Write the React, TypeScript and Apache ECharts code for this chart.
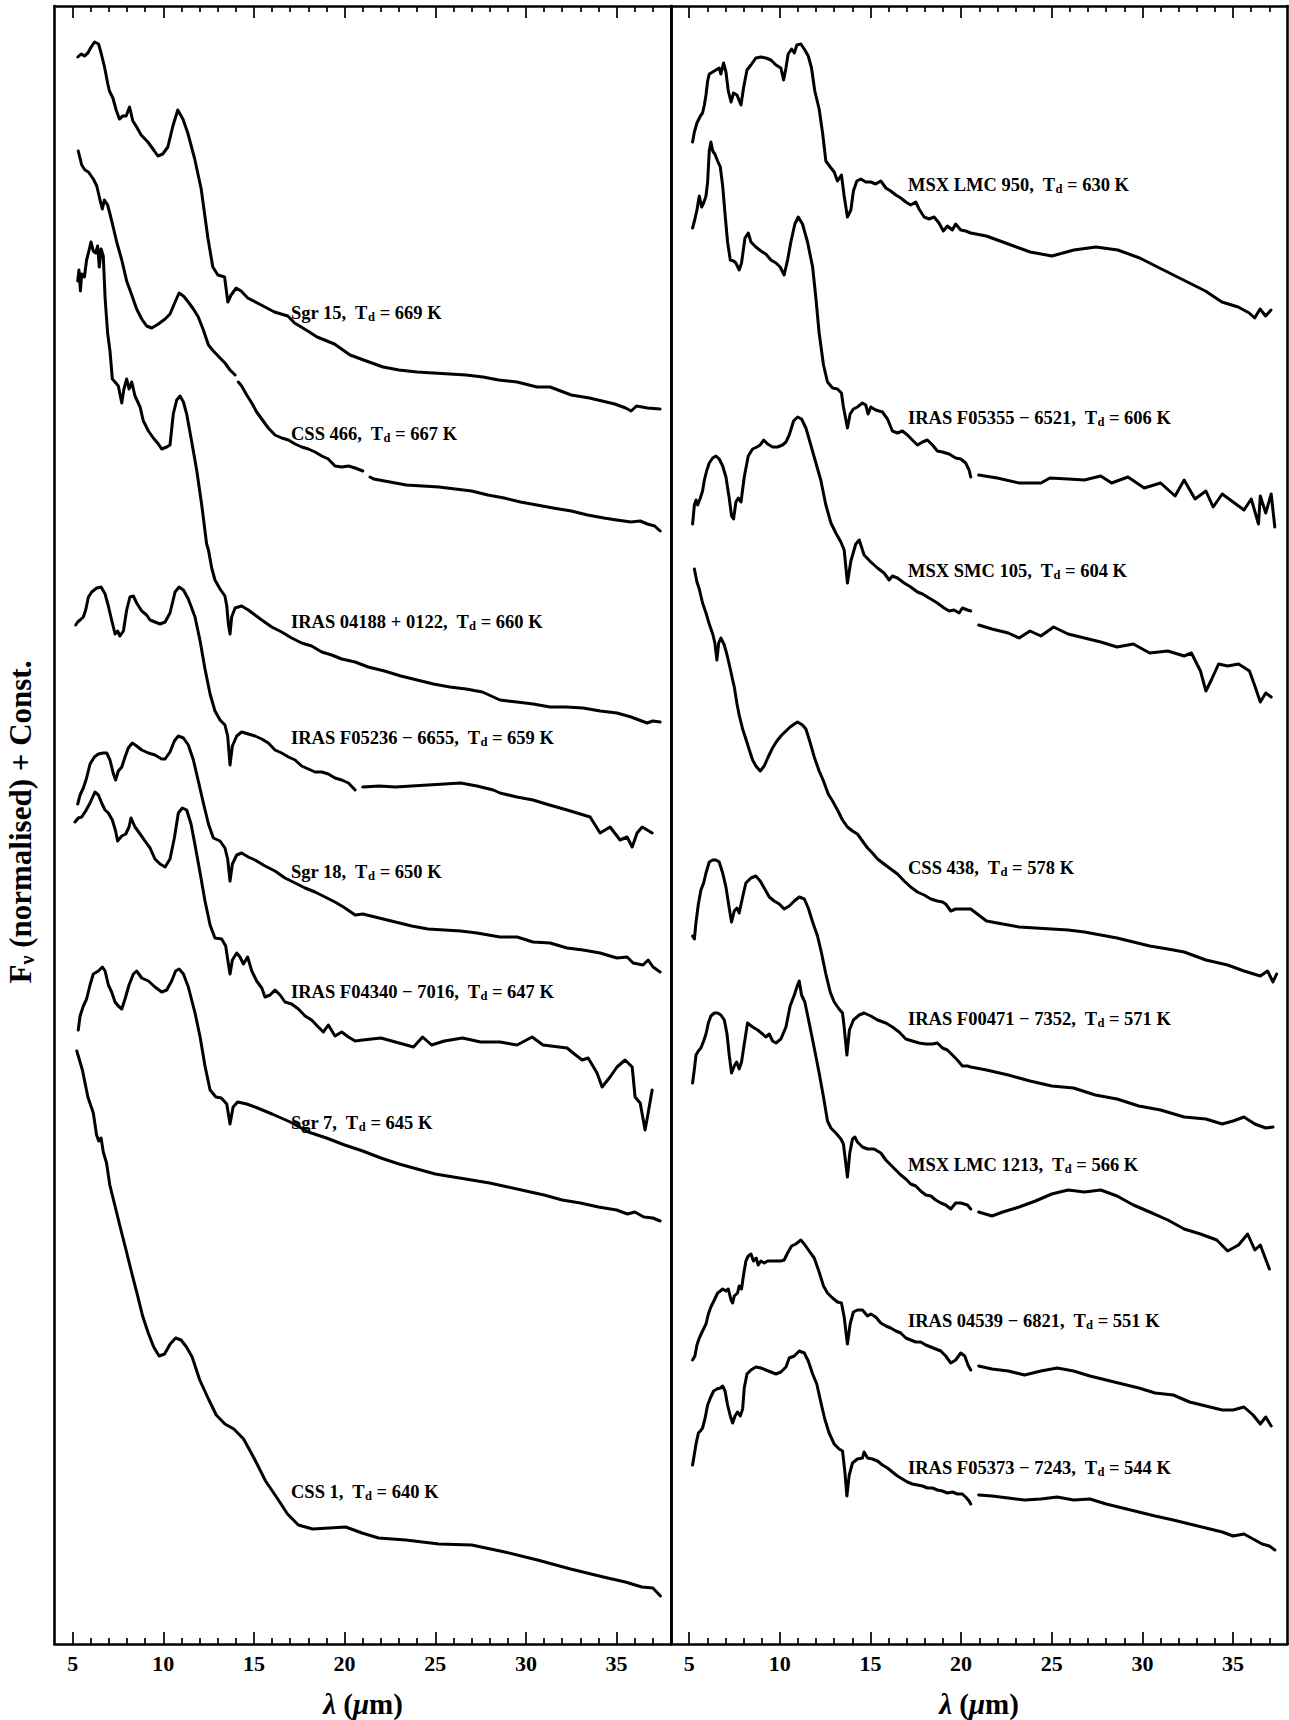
import React, { useEffect, useRef } from 'react';
import * as echarts from 'echarts';

type Pt = [number, number | null];

// ---------- LEFT PANEL SPECTRA (lambda in micron, F_nu normalised + const) ----------
const sgr15: Pt[] = [[5.29,159.3],[5.47,159.6],[5.65,159.4],[5.84,159.7],[6.02,160.3],[6.21,160.8],[6.43,160.6],[6.57,159.7],[6.76,158.3],[6.94,156.6],[7.03,155.9],[7.22,155.2],[7.40,154.0],[7.58,153.1],[7.77,153.4],[7.95,153.4],[8.14,154.3],[8.32,152.9],[8.50,152.4],[8.78,151.5],[9.15,150.8],[9.51,149.9],[9.70,149.4],[9.97,149.6],[10.25,150.3],[10.53,152.4],[10.80,154.0],[11.08,153.1],[11.35,151.7],[11.72,149.2],[12.09,146.1],[12.46,141.2],[12.73,138.3],[13.01,137.5],[13.38,137.3],[13.56,134.8],[13.74,135.5],[14.02,136.2],[14.29,135.9],[14.66,135.2],[15.40,134.5],[16.13,133.8],[16.87,133.4],[17.24,132.7],[17.97,131.9],[18.48,131.3],[19.44,130.6],[20.30,129.5],[21.2,128.9],[22.12,128.3],[23.0,128.0],[23.99,127.8],[24.9,127.7],[25.81,127.6],[26.7,127.5],[27.63,127.3],[28.5,127.0],[29.51,126.8],[30.61,126.3],[31.33,126.3],[32.5,125.5],[33.5,125.2],[34.9,124.6],[35.5,124.2],[35.8,123.9],[36.1,124.4],[36.7,124.2],[37.4,124.1]];
const css466: Pt[] = [[5.31,149.9],[5.50,148.5],[5.68,148.0],[5.87,147.8],[6.14,147.1],[6.33,146.4],[6.51,145.0],[6.64,144.1],[6.75,145.0],[6.93,144.5],[7.06,143.6],[7.25,142.2],[7.43,140.8],[7.71,139.0],[7.98,136.9],[8.26,135.5],[8.53,134.1],[8.81,133.1],[9.08,132.4],[9.36,132.2],[9.73,132.6],[10.10,133.1],[10.37,133.6],[10.65,134.8],[10.87,135.7],[11.11,135.4],[11.38,134.8],[11.66,134.1],[11.93,133.3],[12.21,132.0],[12.49,130.5],[12.76,129.9],[13.13,129.2],[13.40,128.7],[13.68,128.0],[13.96,127.5],[14.05,null],[14.14,126.8],[14.32,126.4],[14.60,125.5],[14.88,124.7],[15.15,123.8],[15.43,123.1],[15.79,122.2],[16.16,121.5],[16.53,121.2],[16.90,121.0],[17.27,120.6],[17.63,120.3],[18.00,120.1],[18.37,119.8],[18.74,119.4],[19.10,119.1],[19.47,118.4],[19.84,118.3],[20.21,118.4],[20.58,118.2],[21.0,117.9],[21.2,null],[21.4,117.3],[21.6,117.1],[22.5,116.8],[23.4,116.5],[24.3,116.4],[25.2,116.3],[26.1,116.1],[27.0,115.9],[27.9,115.5],[28.8,115.2],[29.7,114.8],[30.6,114.5],[31.5,114.2],[32.5,113.9],[33.4,113.5],[34.3,113.2],[35.0,113.0],[35.8,112.8],[36.3,112.9],[36.7,112.6],[37.1,112.4],[37.4,111.9]];
const iras04188: Pt[] = [[5.28,136.9],[5.35,138.0],[5.43,135.9],[5.50,137.6],[5.65,137.3],[5.77,139.0],[5.87,139.7],[6.01,140.8],[6.14,139.9],[6.27,139.7],[6.38,140.4],[6.47,138.3],[6.57,140.1],[6.69,139.4],[6.79,135.2],[6.93,131.7],[7.06,129.9],[7.19,127.1],[7.34,126.8],[7.52,126.4],[7.71,124.7],[7.83,126.1],[7.98,127.1],[8.11,126.1],[8.26,126.8],[8.44,125.4],[8.72,124.3],[8.90,122.9],[9.18,121.9],[9.45,121.2],[9.73,120.6],[9.91,120.1],[10.19,120.3],[10.37,120.5],[10.55,123.6],[10.74,125.0],[10.92,125.4],[11.11,124.8],[11.29,123.6],[11.57,120.8],[11.84,118.0],[12.12,114.5],[12.39,110.6],[12.49,110.0],[12.67,108.2],[12.85,107.0],[13.13,106.1],[13.40,105.4],[13.50,104.4],[13.59,102.6],[13.68,101.6],[13.77,103.3],[13.96,104.2],[14.32,104.4],[14.69,104.0],[15.06,103.5],[15.43,103.0],[15.98,102.3],[16.53,101.8],[17.08,101.2],[17.63,100.7],[18.18,100.4],[18.74,99.8],[19.29,99.5],[19.84,99.1],[20.58,98.8],[21.3,98.3],[22.2,97.9],[23.1,97.4],[24.0,97.0],[24.9,96.6],[25.8,96.3],[26.7,96.1],[27.6,95.8],[28.57,95.0],[29.5,94.8],[30.4,94.6],[31.33,94.3],[32.2,94.3],[33.15,94.2],[34.1,93.9],[35.02,93.7],[35.8,93.3],[36.68,92.7],[37.0,92.9],[37.40,92.8]];
const f05236: Pt[] = [[5.17,102.5],[5.28,102.8],[5.41,103.0],[5.59,103.3],[5.72,104.0],[5.87,105.3],[6.05,105.8],[6.33,106.2],[6.57,106.3],[6.79,105.6],[6.97,104.4],[7.15,103.0],[7.34,101.6],[7.48,101.9],[7.61,101.4],[7.80,101.9],[7.98,104.0],[8.16,105.3],[8.35,105.4],[8.53,104.7],[8.81,103.9],[9.08,103.5],[9.27,103.0],[9.54,102.8],[9.82,102.6],[10.10,102.8],[10.37,103.7],[10.65,105.8],[10.87,106.3],[11.11,106.0],[11.38,105.1],[11.75,103.3],[12.03,100.9],[12.30,98.1],[12.58,95.6],[12.85,93.9],[13.13,93.0],[13.40,92.5],[13.55,91.4],[13.68,88.5],[13.81,90.4],[14.05,91.4],[14.32,91.8],[14.69,91.6],[15.06,91.4],[15.43,91.1],[15.79,90.7],[16.16,90.0],[16.53,89.7],[16.90,89.3],[17.27,89.0],[17.63,88.4],[18.00,88.1],[18.37,87.8],[18.74,87.8],[19.10,87.6],[19.47,87.2],[19.84,87.0],[20.21,86.7],[20.58,86.0],[20.8,null],[21.0,86.3],[21.9,86.4],[22.8,86.3],[23.7,86.4],[24.6,86.5],[25.5,86.6],[26.4,86.7],[27.3,86.4],[28.2,86.0],[28.57,85.7],[29.5,85.3],[30.39,85.0],[31.3,84.5],[32.27,84.0],[33.0,83.6],[33.54,83.3],[34.09,81.7],[34.64,82.3],[35.19,81.0],[35.58,81.3],[35.86,80.3],[36.13,81.7],[36.41,82.3],[36.69,82.0],[36.96,81.7]];
const sgr18: Pt[] = [[5.28,84.6],[5.41,85.5],[5.59,86.2],[5.77,87.2],[5.96,88.6],[6.20,89.3],[6.42,89.6],[6.69,89.7],[6.88,89.7],[7.06,89.0],[7.25,87.6],[7.37,87.0],[7.52,87.9],[7.71,88.3],[7.89,89.3],[8.07,90.2],[8.29,90.7],[8.53,90.4],[8.81,90.0],[9.18,89.7],[9.54,89.5],[9.91,89.1],[10.10,89.1],[10.37,89.8],[10.61,90.9],[10.83,91.4],[11.11,91.2],[11.38,90.5],[11.66,89.0],[11.93,86.9],[12.21,84.7],[12.49,82.6],[12.76,81.2],[13.13,80.9],[13.40,80.2],[13.55,79.1],[13.68,76.9],[13.81,78.6],[14.05,79.5],[14.32,79.7],[14.69,79.3],[15.06,79.0],[15.61,78.4],[16.16,77.9],[16.71,77.2],[17.27,76.7],[17.82,76.2],[18.37,75.8],[18.92,75.3],[19.47,74.8],[20.02,74.2],[20.58,73.5],[21.0,73.6],[21.9,73.2],[22.8,72.8],[23.7,72.4],[24.6,72.1],[25.5,72.0],[26.4,71.9],[27.3,71.7],[28.57,71.3],[29.51,71.3],[30.39,70.8],[31.33,70.7],[32.27,70.2],[33.15,70.0],[34.09,69.7],[35.02,69.2],[35.58,69.3],[35.91,68.7],[36.46,68.5],[36.74,69.0],[37.01,68.3],[37.40,67.8]];
const f04340: Pt[] = [[5.13,82.8],[5.31,83.2],[5.50,83.3],[5.72,83.9],[5.96,84.7],[6.23,85.8],[6.42,85.5],[6.60,84.7],[6.79,84.0],[6.97,83.7],[7.19,83.0],[7.37,81.9],[7.48,80.9],[7.71,81.4],[7.93,81.6],[8.11,82.3],[8.22,83.2],[8.44,82.3],[8.72,81.6],[8.99,80.9],[9.27,80.2],[9.54,79.1],[9.82,78.6],[10.10,78.3],[10.37,79.1],[10.61,81.2],[10.83,83.7],[11.05,84.2],[11.29,84.0],[11.53,82.6],[11.75,80.5],[12.03,77.7],[12.30,74.9],[12.58,72.5],[12.85,71.2],[13.22,71.1],[13.44,70.4],[13.59,68.6],[13.68,67.6],[13.81,69.0],[14.05,69.7],[14.23,69.3],[14.42,68.6],[14.65,69.3],[14.88,67.9],[15.15,66.9],[15.43,66.2],[15.61,65.3],[15.89,65.5],[16.16,66.0],[16.44,65.5],[16.71,64.8],[17.08,64.6],[17.45,64.1],[17.82,63.4],[18.18,63.0],[18.55,62.3],[18.83,61.8],[19.10,62.5],[19.47,61.4],[19.84,61.8],[20.21,61.3],[20.58,60.9],[21.0,61.0],[22.0,61.2],[23.0,60.7],[23.8,60.3],[24.3,61.3],[24.8,60.5],[25.5,60.9],[26.5,61.2],[27.5,60.8],[28.57,60.8],[29.51,60.5],[30.34,61.3],[30.94,60.5],[32.27,60.2],[32.60,59.7],[33.10,59.0],[33.43,59.2],[33.92,57.7],[34.20,56.3],[34.64,57.3],[35.02,58.3],[35.47,59.0],[35.86,58.3],[36.02,55.3],[36.30,54.7],[36.57,52.0],[36.74,53.7],[36.96,56.0]];
const sgr7: Pt[] = [[5.31,62.0],[5.41,63.4],[5.59,64.4],[5.77,65.1],[5.96,66.5],[6.14,67.6],[6.42,67.9],[6.64,68.3],[6.79,67.9],[6.97,66.5],[7.15,65.8],[7.34,64.8],[7.52,64.4],[7.71,64.1],[7.89,65.1],[8.11,66.5],[8.35,67.6],[8.53,67.9],[8.81,67.2],[9.18,66.9],[9.54,66.3],[9.91,65.8],[10.19,66.0],[10.46,66.9],[10.68,67.9],[10.87,68.1],[11.11,67.6],[11.38,66.3],[11.75,63.7],[12.03,61.3],[12.30,58.4],[12.58,56.0],[12.9,55.3],[13.2,55.2],[13.5,54.6],[13.68,52.6],[13.85,54.3],[14.1,54.8],[14.6,54.6],[15.2,54.2],[16.0,53.6],[17.0,52.8],[18.0,51.8],[19.0,51.2],[20.0,50.5],[21.0,49.9],[22.0,49.2],[23.0,48.6],[24.0,48.1],[25.0,47.6],[26.0,47.3],[27.0,47.0],[28.0,46.7],[29.0,46.3],[30.0,45.9],[31.0,45.5],[32.0,45.0],[33.0,44.7],[34.0,44.3],[35.0,44.0],[35.6,43.6],[36.0,43.8],[36.5,43.3],[37.0,43.2],[37.4,42.9]];
const css1: Pt[] = [[5.23,59.9],[5.54,58.0],[5.84,55.3],[6.14,53.7],[6.32,51.5],[6.44,50.9],[6.57,51.2],[6.69,49.8],[6.87,48.7],[7.05,46.5],[7.35,44.3],[7.65,42.1],[7.96,39.9],[8.26,37.7],[8.56,35.6],[8.86,33.4],[9.17,31.7],[9.47,30.3],[9.77,29.4],[10.07,29.6],[10.38,30.6],[10.68,31.2],[10.98,31.0],[11.28,30.3],[11.59,29.3],[12.01,27.0],[12.49,25.1],[12.92,23.5],[13.40,22.6],[13.89,22.1],[14.43,21.1],[15.03,19.1],[15.64,16.9],[16.24,15.3],[16.85,13.6],[17.45,12.5],[18.24,12.1],[19.15,12.2],[20.06,12.3],[20.96,11.7],[21.87,11.2],[23.38,11.0],[25.20,10.6],[27.01,10.5],[28.83,9.8],[30.64,9.0],[32.46,8.1],[34.27,7.3],[35.48,6.8],[36.39,6.3],[37.00,6.2],[37.42,5.4]];

// ---------- RIGHT PANEL SPECTRA ----------
const lmc950: Pt[] = [[5.19,150.8],[5.29,151.8],[5.43,152.7],[5.62,153.4],[5.74,153.7],[5.84,154.5],[5.93,155.5],[6.02,156.9],[6.11,157.6],[6.30,157.8],[6.48,158.0],[6.66,158.2],[6.75,157.6],[6.90,158.7],[7.03,157.8],[7.16,155.9],[7.31,154.8],[7.45,155.7],[7.64,155.5],[7.86,154.5],[8.00,156.2],[8.19,158.0],[8.41,158.5],[8.68,159.2],[8.96,159.3],[9.23,159.2],[9.51,159.0],[9.79,158.5],[10.06,158.2],[10.21,157.0],[10.34,158.2],[10.46,159.6],[10.65,160.1],[10.80,159.7],[10.94,160.5],[11.16,160.6],[11.35,160.1],[11.57,159.4],[11.75,158.2],[11.93,155.9],[12.17,154.1],[12.36,151.7],[12.54,148.9],[12.78,148.3],[13.00,147.8],[13.18,146.9],[13.40,147.5],[13.55,145.4],[13.73,143.3],[13.92,144.0],[14.06,145.9],[14.25,146.9],[14.47,147.1],[14.74,146.8],[15.02,146.8],[15.29,146.6],[15.57,146.9],[15.85,146.2],[16.12,145.9],[16.40,145.5],[16.67,145.2],[16.95,144.8],[17.22,144.5],[17.50,144.8],[17.68,144.1],[17.96,143.3],[18.23,143.1],[18.51,143.3],[18.78,142.7],[19.02,141.9],[19.24,142.4],[19.52,142.0],[19.70,142.6],[19.98,142.0],[20.25,141.9],[20.53,141.7],[21.39,141.4],[22.60,140.6],[23.81,139.8],[25.01,139.4],[26.22,140.0],[27.43,140.3],[28.64,140.0],[29.85,139.2],[31.05,138.1],[32.26,137.0],[33.47,135.9],[34.38,134.8],[35.28,134.3],[35.89,133.7],[36.19,133.2],[36.49,134.1],[36.79,133.4],[37.09,134.0]];
const f05355: Pt[] = [[5.19,142.2],[5.32,143.1],[5.43,144.0],[5.56,145.4],[5.69,144.3],[5.80,144.7],[5.93,145.4],[6.02,146.8],[6.11,149.9],[6.20,150.8],[6.30,149.9],[6.42,149.6],[6.57,148.9],[6.72,148.3],[6.85,146.4],[6.98,143.6],[7.12,140.8],[7.27,139.0],[7.45,138.9],[7.58,138.7],[7.76,138.0],[7.89,138.7],[8.08,141.2],[8.26,141.7],[8.41,140.8],[8.68,140.3],[8.96,139.9],[9.23,139.6],[9.51,139.0],[9.79,138.7],[10.02,138.3],[10.24,137.5],[10.43,139.0],[10.61,140.8],[10.83,142.6],[11.02,143.3],[11.25,142.6],[11.53,140.8],[11.81,138.3],[11.99,135.2],[12.17,131.7],[12.41,128.5],[12.63,126.8],[12.91,126.2],[13.18,126.1],[13.40,125.7],[13.51,124.3],[13.73,122.2],[13.88,123.6],[14.06,124.1],[14.28,124.3],[14.56,124.7],[14.74,124.5],[14.87,123.6],[15.02,124.3],[15.29,124.0],[15.66,123.8],[15.94,123.1],[16.21,121.9],[16.49,121.7],[16.76,121.9],[17.04,121.5],[17.31,121.0],[17.59,120.5],[17.87,120.8],[18.14,121.0],[18.42,120.5],[18.69,119.9],[18.97,119.8],[19.34,119.6],[19.70,119.2],[19.98,119.1],[20.25,118.7],[20.44,118.0],[20.53,117.3],[20.75,null],[20.97,117.5],[21.99,117.2],[23.2,116.7],[24.4,116.7],[24.9,117.2],[25.9,117.1],[26.8,117.0],[27.7,117.4],[28.3,116.7],[29.2,117.3],[30.1,116.2],[31.0,116.7],[31.8,115.4],[32.3,117.0],[32.9,115.1],[33.5,115.9],[33.9,114.3],[34.4,115.6],[35.0,114.8],[35.6,114.0],[36.0,115.1],[36.4,112.6],[36.5,115.4],[36.8,113.7],[37.1,115.6],[37.3,112.3]];
const smc105: Pt[] = [[5.19,112.6],[5.29,114.5],[5.38,115.0],[5.47,114.5],[5.62,115.2],[5.74,115.9],[5.84,117.0],[5.98,118.0],[6.11,118.7],[6.30,119.2],[6.48,119.4],[6.66,119.1],[6.85,118.4],[7.03,117.3],[7.21,115.2],[7.34,113.4],[7.45,113.1],[7.58,114.8],[7.71,115.2],[7.86,114.8],[8.04,117.3],[8.26,119.4],[8.50,120.1],[8.74,120.3],[8.92,120.5],[9.11,121.0],[9.33,120.6],[9.60,120.3],[9.88,120.3],[10.15,120.5],[10.34,120.8],[10.52,121.5],[10.76,122.9],[10.98,123.3],[11.20,123.1],[11.44,122.2],[11.71,120.5],[11.99,118.7],[12.26,117.0],[12.54,114.5],[12.82,112.7],[13.09,111.7],[13.37,110.8],[13.55,110.0],[13.66,108.0],[13.73,106.7],[13.92,108.9],[14.19,110.6],[14.38,111.0],[14.65,109.5],[15.02,108.8],[15.39,108.2],[15.75,107.7],[16.03,107.0],[16.21,107.4],[16.49,107.2],[16.86,106.7],[17.22,106.3],[17.59,105.8],[17.87,105.6],[18.05,105.4],[18.33,105.1],[18.69,104.7],[19.06,104.2],[19.34,103.9],[19.61,104.0],[19.89,103.7],[20.07,104.2],[20.35,104.0],[20.53,103.9],[20.75,null],[20.97,102.5],[21.7,102.1],[22.6,101.7],[23.2,101.2],[23.8,101.9],[24.4,101.4],[25.1,102.3],[25.9,101.6],[26.8,101.2],[27.7,100.8],[28.6,100.3],[29.5,100.6],[30.4,99.7],[31.4,99.9],[32.3,99.4],[32.7,99.7],[33.2,97.9],[33.5,95.9],[33.8,97.0],[34.2,98.6],[34.7,98.4],[35.3,98.6],[35.9,97.9],[36.2,96.4],[36.5,94.8],[36.8,95.7],[37.1,95.3]];
const css438: Pt[] = [[5.29,108.1],[5.43,106.8],[5.56,106.1],[5.74,104.7],[5.93,103.7],[6.11,102.6],[6.30,101.6],[6.42,100.7],[6.53,99.0],[6.63,100.7],[6.75,101.2],[6.94,100.5],[7.09,99.5],[7.27,98.1],[7.40,97.0],[7.49,96.3],[7.64,94.6],[7.76,93.5],[7.95,92.1],[8.13,91.1],[8.32,90.0],[8.50,89.0],[8.68,88.4],[8.92,87.9],[9.14,88.4],[9.36,89.3],[9.60,90.2],[9.84,90.9],[10.06,91.4],[10.34,91.9],[10.57,92.3],[10.80,92.6],[10.98,92.8],[11.25,92.5],[11.44,92.1],[11.68,90.7],[11.90,89.3],[12.17,87.9],[12.41,86.9],[12.67,85.6],[12.91,84.9],[13.18,84.0],[13.46,83.0],[13.73,82.3],[14.01,81.9],[14.28,81.6],[14.56,80.9],[14.84,80.2],[15.11,79.7],[15.39,79.1],[15.75,78.6],[16.12,78.1],[16.49,77.6],[16.86,76.9],[17.22,76.3],[17.59,75.8],[17.96,75.5],[18.33,75.1],[18.69,74.9],[18.97,74.8],[19.15,74.6],[19.43,73.9],[19.70,74.1],[19.98,74.1],[20.35,74.1],[20.53,74.1],[21.4,72.9],[22.3,72.6],[23.2,72.3],[24.1,72.2],[25.0,72.1],[25.9,72.0],[26.8,71.8],[27.7,71.5],[28.6,71.2],[29.5,70.8],[30.4,70.4],[31.4,70.1],[32.3,69.8],[33.5,69.0],[34.7,68.5],[35.6,67.9],[36.5,67.4],[36.9,67.9],[37.2,66.8],[37.4,67.6]];
const f00471: Pt[] = [[5.19,71.4],[5.29,71.1],[5.38,72.8],[5.51,74.6],[5.65,76.0],[5.80,76.7],[5.93,77.7],[6.11,78.8],[6.30,79.0],[6.48,79.0],[6.66,78.8],[6.85,77.7],[7.03,76.3],[7.21,74.2],[7.34,72.8],[7.49,73.9],[7.64,74.2],[7.76,73.7],[7.95,75.3],[8.13,76.7],[8.41,77.2],[8.68,77.4],[8.92,76.9],[9.14,76.2],[9.42,75.3],[9.69,74.9],[9.97,74.6],[10.24,74.1],[10.52,74.4],[10.80,74.9],[11.07,75.3],[11.35,75.1],[11.57,74.2],[11.81,72.8],[12.08,71.4],[12.30,69.7],[12.54,67.6],[12.78,65.8],[13.00,64.8],[13.27,64.1],[13.46,63.7],[13.55,62.3],[13.70,59.5],[13.84,62.0],[14.06,63.0],[14.38,63.5],[14.65,63.7],[15.02,63.4],[15.39,63.0],[15.85,62.7],[16.21,62.3],[16.58,61.8],[16.95,61.1],[17.31,60.9],[17.68,60.7],[18.05,60.6],[18.42,60.6],[18.69,60.7],[18.97,60.2],[19.24,60.0],[19.52,59.5],[19.79,59.0],[20.07,58.4],[20.35,58.4],[20.53,58.3],[21.4,58.0],[22.6,57.5],[23.8,56.9],[25.0,56.4],[26.2,56.2],[27.4,55.5],[28.6,55.1],[29.8,54.4],[31.0,54.0],[32.3,53.3],[33.5,53.1],[34.4,52.6],[35.0,52.9],[35.6,53.3],[36.2,52.6],[36.8,52.2],[37.2,52.3]];
const lmc1213: Pt[] = [[5.19,56.7],[5.29,58.1],[5.38,59.5],[5.51,59.9],[5.65,60.2],[5.80,60.9],[5.93,61.6],[6.06,62.7],[6.20,63.4],[6.39,63.7],[6.57,63.7],[6.75,63.5],[6.94,63.0],[7.09,61.6],[7.21,59.5],[7.34,57.7],[7.49,58.4],[7.62,58.8],[7.76,58.1],[7.89,58.8],[8.04,60.6],[8.22,62.7],[8.50,62.3],[8.78,62.0],[9.05,61.6],[9.23,61.3],[9.42,61.6],[9.60,60.9],[9.79,60.7],[10.06,61.1],[10.34,62.3],[10.57,64.4],[10.80,65.5],[10.98,66.5],[11.07,66.9],[11.20,65.5],[11.38,64.8],[11.62,62.7],[11.90,60.2],[12.17,57.7],[12.41,55.3],[12.63,52.9],[12.82,52.2],[13.09,51.7],[13.37,51.1],[13.51,50.6],[13.59,49.4],[13.73,47.3],[13.86,49.7],[14.01,51.1],[14.14,51.3],[14.28,50.8],[14.56,50.3],[14.84,50.1],[15.20,50.1],[15.57,49.7],[15.85,49.0],[16.12,48.5],[16.40,48.0],[16.67,47.5],[16.95,47.1],[17.22,46.6],[17.50,46.4],[17.77,45.9],[18.05,45.5],[18.33,45.4],[18.60,45.0],[18.88,44.7],[19.15,44.5],[19.43,44.1],[19.70,44.7],[19.98,44.7],[20.35,44.5],[20.53,44.1],[20.75,null],[20.97,43.8],[21.7,43.4],[22.3,43.8],[23.2,44.3],[24.1,44.9],[25.0,45.6],[25.9,46.0],[26.8,45.8],[27.7,46.0],[28.6,45.4],[29.5,44.5],[30.4,43.8],[31.4,43.0],[32.3,42.1],[33.2,41.6],[34.1,41.0],[34.7,39.9],[35.3,40.5],[35.8,41.6],[36.2,40.0],[36.5,40.5],[37.0,38.1]];
const iras04539: Pt[] = [[5.19,29.0],[5.32,29.4],[5.43,30.5],[5.56,31.2],[5.74,31.9],[5.93,32.6],[6.06,33.6],[6.20,34.3],[6.39,35.0],[6.57,35.7],[6.72,35.9],[6.85,36.1],[7.03,35.9],[7.16,36.1],[7.31,35.0],[7.40,34.7],[7.49,35.4],[7.67,35.7],[7.76,36.4],[7.89,36.1],[8.00,37.5],[8.13,38.9],[8.26,39.4],[8.41,39.6],[8.55,38.9],[8.70,39.2],[8.81,38.5],[8.96,38.9],[9.14,38.7],[9.33,38.9],[9.51,38.9],[9.79,38.9],[10.06,38.9],[10.24,39.0],[10.43,39.7],[10.65,40.4],[10.89,40.6],[11.16,41.0],[11.35,40.6],[11.62,39.9],[11.90,39.2],[12.17,37.8],[12.41,36.4],[12.63,35.7],[12.91,35.2],[13.18,34.8],[13.40,34.7],[13.55,33.3],[13.73,30.6],[13.88,32.6],[14.06,33.8],[14.28,34.0],[14.56,34.0],[14.84,33.4],[15.02,33.6],[15.29,33.3],[15.57,32.7],[15.85,32.4],[16.12,32.2],[16.40,31.9],[16.67,31.7],[16.95,31.2],[17.22,31.0],[17.50,30.8],[17.77,30.8],[18.05,30.5],[18.33,30.3],[18.60,30.1],[18.88,29.9],[19.15,29.4],[19.43,28.7],[19.70,29.0],[19.98,29.7],[20.20,29.4],[20.38,28.5],[20.53,28.0],[20.75,null],[20.97,28.4],[21.7,28.1],[22.6,27.9],[23.5,27.5],[24.4,27.9],[25.3,28.2],[26.2,27.9],[27.1,27.4],[28.0,27.0],[28.9,26.6],[29.8,26.2],[30.7,25.7],[31.7,25.5],[32.6,24.8],[33.5,24.4],[34.4,24.0],[35.0,24.0],[35.6,24.3],[36.1,23.5],[36.5,22.6],[36.8,23.3],[37.1,22.4]];
const f05373: Pt[] = [[5.19,18.5],[5.29,19.6],[5.38,20.6],[5.51,21.7],[5.62,21.9],[5.74,22.2],[5.87,23.1],[6.02,24.5],[6.17,25.2],[6.35,25.9],[6.53,26.1],[6.72,26.2],[6.85,26.4],[6.98,25.9],[7.12,24.5],[7.27,23.4],[7.40,22.7],[7.53,23.4],[7.67,23.8],[7.82,23.4],[7.95,24.1],[8.04,26.2],[8.19,27.6],[8.41,28.0],[8.68,28.3],[8.96,28.2],[9.23,28.0],[9.51,27.8],[9.79,27.6],[10.06,27.8],[10.34,28.3],[10.52,29.2],[10.80,29.4],[11.07,29.9],[11.35,29.7],[11.57,28.9],[11.81,27.6],[12.04,26.6],[12.26,24.8],[12.48,23.1],[12.72,21.7],[13.00,20.6],[13.27,20.1],[13.46,19.9],[13.59,17.8],[13.70,15.4],[13.83,17.5],[14.01,18.7],[14.28,19.1],[14.56,19.2],[14.65,19.8],[14.84,19.2],[15.11,19.1],[15.39,18.9],[15.66,18.5],[15.94,18.2],[16.21,17.8],[16.49,17.4],[16.76,17.1],[17.04,16.8],[17.31,16.6],[17.59,16.5],[17.87,16.4],[18.14,16.2],[18.42,16.2],[18.69,16.0],[18.97,15.9],[19.24,15.7],[19.52,15.8],[19.79,15.6],[20.07,15.6],[20.25,15.3],[20.44,14.9],[20.53,14.6],[20.75,null],[20.97,15.5],[21.7,15.4],[22.6,15.2],[23.5,15.0],[24.4,15.1],[25.3,15.3],[26.2,15.0],[27.1,15.1],[28.0,14.6],[28.9,14.2],[29.8,13.8],[30.7,13.4],[31.7,13.0],[32.6,12.6],[33.5,12.2],[34.4,11.8],[35.0,11.4],[35.6,11.6],[36.2,11.0],[36.6,10.6],[37.0,10.4],[37.3,10.0]];

// ---------- NAMES & TEMPERATURES ----------
const leftNames = ['Sgr 15', 'CSS 466', 'IRAS 04188 + 0122', 'IRAS F05236 \u2212 6655', 'Sgr 18', 'IRAS F04340 \u2212 7016', 'Sgr 7', 'CSS 1'];
const leftTd = [669, 667, 660, 659, 650, 647, 645, 640];
const rightNames = ['MSX LMC 950', 'IRAS F05355 \u2212 6521', 'MSX SMC 105', 'CSS 438', 'IRAS F00471 \u2212 7352', 'MSX LMC 1213', 'IRAS 04539 \u2212 6821', 'IRAS F05373 \u2212 7243'];
const rightTd = [630, 606, 604, 578, 571, 566, 551, 544];
const leftSpectra = [sgr15, css466, iras04188, f05236, sgr18, f04340, sgr7, css1];
const rightSpectra = [lmc950, f05355, smc105, css438, f00471, lmc1213, iras04539, f05373];

// tick values
const majorTicks = [5, 10, 15, 20, 25, 30, 35];
const minorTicks = [6, 7, 8, 9, 11, 12, 13, 14, 16, 17, 18, 19, 21, 22, 23, 24, 26, 27, 28, 29, 31, 32, 33, 34, 36, 37];

// ---------- LAYOUT (pixels) ----------
const leftLabelY = [313, 434, 622, 738, 872, 992, 1123, 1492];
const rightLabelY = [185, 418, 571, 868, 1019, 1165, 1321, 1468];

const SERIF = '"Liberation Serif", "Times New Roman", serif';

export default function App() {
  const ref = useRef<HTMLDivElement>(null);
  useEffect(() => {
    document.body.style.margin = '0';
    const chart = echarts.init(ref.current!, null, { renderer: 'svg' });
    const axisLineStyle = { color: '#000', width: 2.6 };
    const tickStyle = { color: '#000', width: 1.7 };
    const xAxesFor = (gridIndex: number) => {
      const base = { type: 'value', gridIndex, min: 4, max: 38, splitLine: { show: false } };
      return [
        { ...base, position: 'bottom',
          axisLine: { show: true, onZero: false, lineStyle: axisLineStyle },
          axisTick: { show: true, inside: true, length: 12, customValues: majorTicks, lineStyle: tickStyle },
          axisLabel: { show: true, customValues: majorTicks, margin: 8, fontFamily: SERIF, fontWeight: 'bold', fontSize: 22, color: '#000' } },
        { ...base, position: 'bottom',
          axisLine: { show: false, onZero: false },
          axisTick: { show: true, inside: true, length: 6, customValues: minorTicks, lineStyle: tickStyle },
          axisLabel: { show: false } },
        { ...base, position: 'top',
          axisLine: { show: true, onZero: false, lineStyle: axisLineStyle },
          axisTick: { show: true, inside: true, length: 12, customValues: majorTicks, lineStyle: tickStyle },
          axisLabel: { show: false } },
        { ...base, position: 'top',
          axisLine: { show: false, onZero: false },
          axisTick: { show: true, inside: true, length: 6, customValues: minorTicks, lineStyle: tickStyle },
          axisLabel: { show: false } },
      ];
    };
    const yAxesFor = (gridIndex: number) => ['left', 'right'].map((pos) => ({
      type: 'value', gridIndex, position: pos, min: 0.6, max: 164.4,
      axisLine: { show: true, onZero: false, lineStyle: axisLineStyle },
      axisTick: { show: false }, axisLabel: { show: false }, splitLine: { show: false },
    }));

    const mkSeries = (data: Pt[], xi: number, yi: number) => ({
      type: 'line', xAxisIndex: xi, yAxisIndex: yi, data,
      showSymbol: false, symbol: 'none', connectNulls: false, silent: true,
      lineStyle: { color: '#000', width: 3, join: 'round', cap: 'round' },
    });

    const rich = {
      a: { fontFamily: SERIF, fontWeight: 'bold', fontSize: 18.5, lineHeight: 20, fill: '#000' },
      s: { fontFamily: SERIF, fontWeight: 'bold', fontSize: 12.5, lineHeight: 10, verticalAlign: 'bottom', fill: '#000' },
    };
    const label = (x: number, y: number, name: string, td: number) => ({
      type: 'text', x, y, silent: true,
      style: { text: `{a|${name},  T}{s|d}{a| = ${td} K}`, rich, verticalAlign: 'middle', align: 'left' },
    });

    const titleRich = {
      i: { fontFamily: SERIF, fontWeight: 'bold', fontStyle: 'italic', fontSize: 29, fill: '#000' },
      n: { fontFamily: SERIF, fontWeight: 'bold', fontSize: 29, fill: '#000' },
    };
    const xTitle = (x: number) => ({
      type: 'text', x, y: 1704, silent: true,
      style: { text: '{i|\u03bb}{n| (}{i|\u03bc}{n|m)}', rich: titleRich, align: 'center', verticalAlign: 'middle' },
    });

    const option = {
      animation: false,
      backgroundColor: '#fff',
      grid: [
        { left: 54.5, top: 6, width: 616.5, height: 1638, containLabel: false },
        { left: 671, top: 6, width: 616.5, height: 1638, containLabel: false },
      ],
      xAxis: [...xAxesFor(0), ...xAxesFor(1)],
      yAxis: [...yAxesFor(0), ...yAxesFor(1)],
      series: [
        ...leftSpectra.map((d) => mkSeries(d, 0, 0)),
        ...rightSpectra.map((d) => mkSeries(d, 4, 2)),
      ],
      graphic: [
        ...leftNames.map((n, i) => label(291, leftLabelY[i], n, leftTd[i])),
        ...rightNames.map((n, i) => label(908, rightLabelY[i], n, rightTd[i])),
        xTitle(363),
        xTitle(979),
        {
          type: 'text', x: 20, y: 822, rotation: Math.PI / 2, silent: true,
          style: {
            text: '{a|F}{s|\u03bd}{a| (normalised) + Const.}',
            rich: {
              a: { fontFamily: SERIF, fontWeight: 'bold', fontSize: 31, lineHeight: 34, fill: '#000' },
              s: { fontFamily: SERIF, fontWeight: 'bold', fontSize: 20, lineHeight: 19, verticalAlign: 'bottom', fill: '#000' },
            },
            align: 'center', verticalAlign: 'middle',
          },
        },
      ],
    };
    chart.setOption(option as any);
    return () => chart.dispose();
  }, []);
  return <div ref={ref} style={{ width: 1289, height: 1720 }} />;
}
